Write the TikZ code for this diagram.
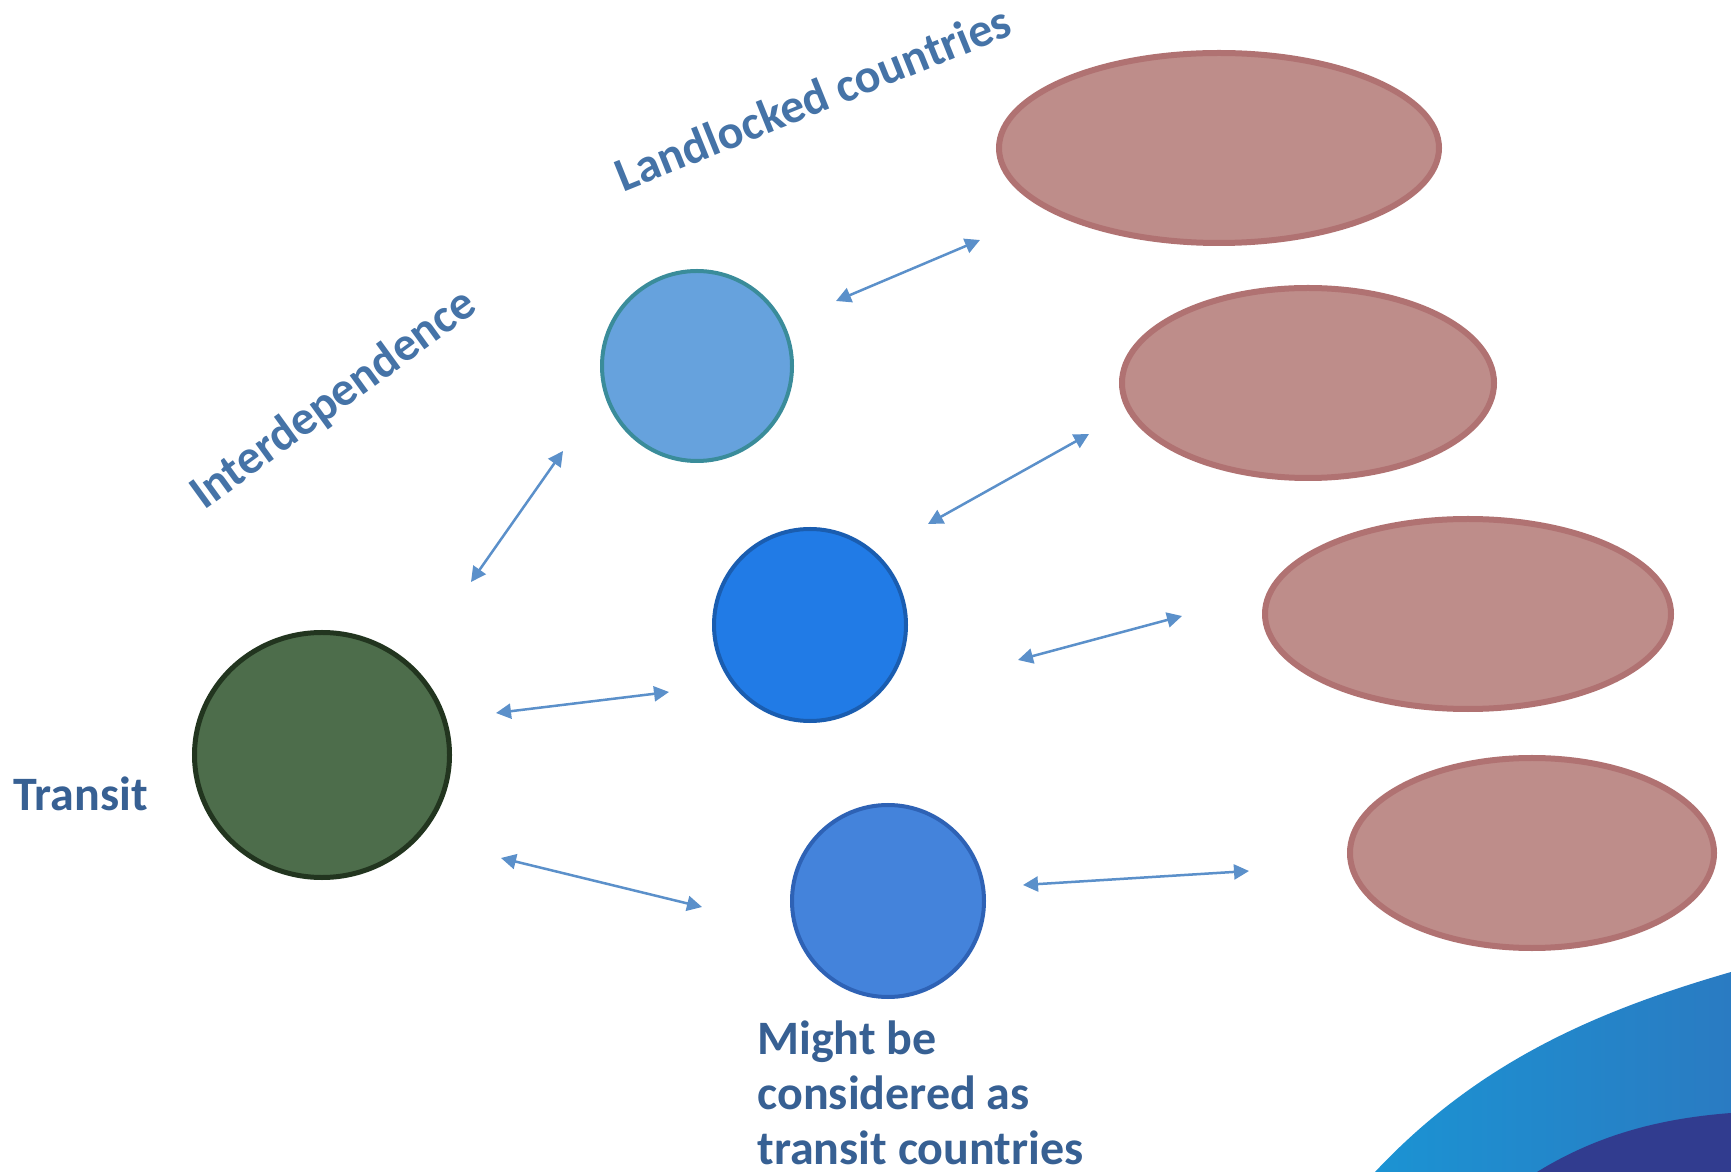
\documentclass[tikz,border=0pt]{standalone}
\usepackage{fontspec}
\setmainfont{Carlito}
\usetikzlibrary{arrows.meta,shapes.geometric}
\definecolor{txtA}{HTML}{376093}
\definecolor{txtB}{HTML}{4573A7}
\definecolor{arrowc}{HTML}{5B90CA}
\definecolor{grnF}{HTML}{4D6D4B}
\definecolor{grnD}{HTML}{22351F}
\definecolor{lbF}{HTML}{66A2DD}
\definecolor{lbD}{HTML}{3A8C9A}
\definecolor{bF}{HTML}{217BE6}
\definecolor{bD}{HTML}{1A5DB0}
\definecolor{mbF}{HTML}{4483DB}
\definecolor{mbD}{HTML}{2E62B5}
\definecolor{elF}{HTML}{BE8D8A}
\definecolor{elD}{HTML}{B07272}
\definecolor{cornL}{HTML}{1B93D3}
\definecolor{cornR}{HTML}{2A7BC2}
\definecolor{navy}{HTML}{313C8F}
\tikzset{
  blob/.style={ellipse, inner sep=0pt},
  country/.style={blob, fill=elF, draw=elD, line width=3bp},
  link/.style={draw=arrowc, line width=1.25bp,
    {Triangle[length=7.5bp,width=7.5bp]}-{Triangle[length=7.5bp,width=7.5bp]}},
  lbl/.style={font=\bfseries\fontsize{24bp}{27.5bp}\selectfont, inner sep=0pt},
}
\begin{document}
\begin{tikzpicture}[x=0.5bp,y=-0.5bp]
\useasboundingbox (0,0) rectangle (1731,1172);
\fill[white] (0,0) rectangle (1731,1172);
% corner decoration
\shade[left color=cornL, right color=cornR]
  (1375,1172) .. controls (1480,1060) and (1600,1010) .. (1731,972) -- (1731,1172) -- cycle;
\fill[navy] (1537,1172) .. controls (1600,1133) and (1665,1118) .. (1731,1113) -- (1731,1172) -- cycle;
% circles
\node[blob, fill=grnF, draw=grnD, line width=2.5bp, minimum width=127.5bp, minimum height=122.5bp] (transit) at (322,755) {};
\node[blob, fill=lbF, draw=lbD, line width=2bp, minimum width=95bp, minimum height=95bp] (lc1) at (697,366) {};
\node[blob, fill=bF, draw=bD, line width=2bp, minimum width=96bp, minimum height=96bp] (lc2) at (810,625) {};
\node[blob, fill=mbF, draw=mbD, line width=2bp, minimum width=96bp, minimum height=96bp] (lc3) at (888,901) {};
% ellipses
\node[country, minimum width=220bp, minimum height=95bp] (e1) at (1219,148) {};
\node[country, minimum width=186bp, minimum height=95bp] (e2) at (1308,383) {};
\node[country, minimum width=203bp, minimum height=95bp] (e3) at (1468,614) {};
\node[country, minimum width=182bp, minimum height=95bp] (e4) at (1532,853) {};
% arrow ends
\coordinate (a1s) at (836,301);  \coordinate (a1e) at (980,240);
\coordinate (a2s) at (471,582);  \coordinate (a2e) at (563,451);
\coordinate (a3s) at (928,524);  \coordinate (a3e) at (1089,434);
\coordinate (a4s) at (496,713);  \coordinate (a4e) at (669,692);
\coordinate (a5s) at (1018,660); \coordinate (a5e) at (1182,616);
\coordinate (a6s) at (501,858);  \coordinate (a6e) at (702,907);
\coordinate (a7s) at (1023,885); \coordinate (a7e) at (1249,871);
\draw[link] (a1s) -- (a1e);
\draw[link] (a2s) -- (a2e);
\draw[link] (a3s) -- (a3e);
\draw[link] (a4s) -- (a4e);
\draw[link] (a5s) -- (a5e);
\draw[link] (a6s) -- (a6e);
\draw[link] (a7s) -- (a7e);
% labels
\node[lbl, text=txtA, anchor=base west] (tlbl) at (13,811) {Transit};
\node[lbl, text=txtA, anchor=north west, align=left] (mlbl) at (757,1020) {Might be\\considered as\\transit countries};
\node[lbl, text=txtB, rotate=36] (ilbl) at (334,400) {Interdependence};
\node[lbl, text=txtB, rotate=22] (llbl) at (813,98) {Landlocked countries};
\end{tikzpicture}
\end{document}
